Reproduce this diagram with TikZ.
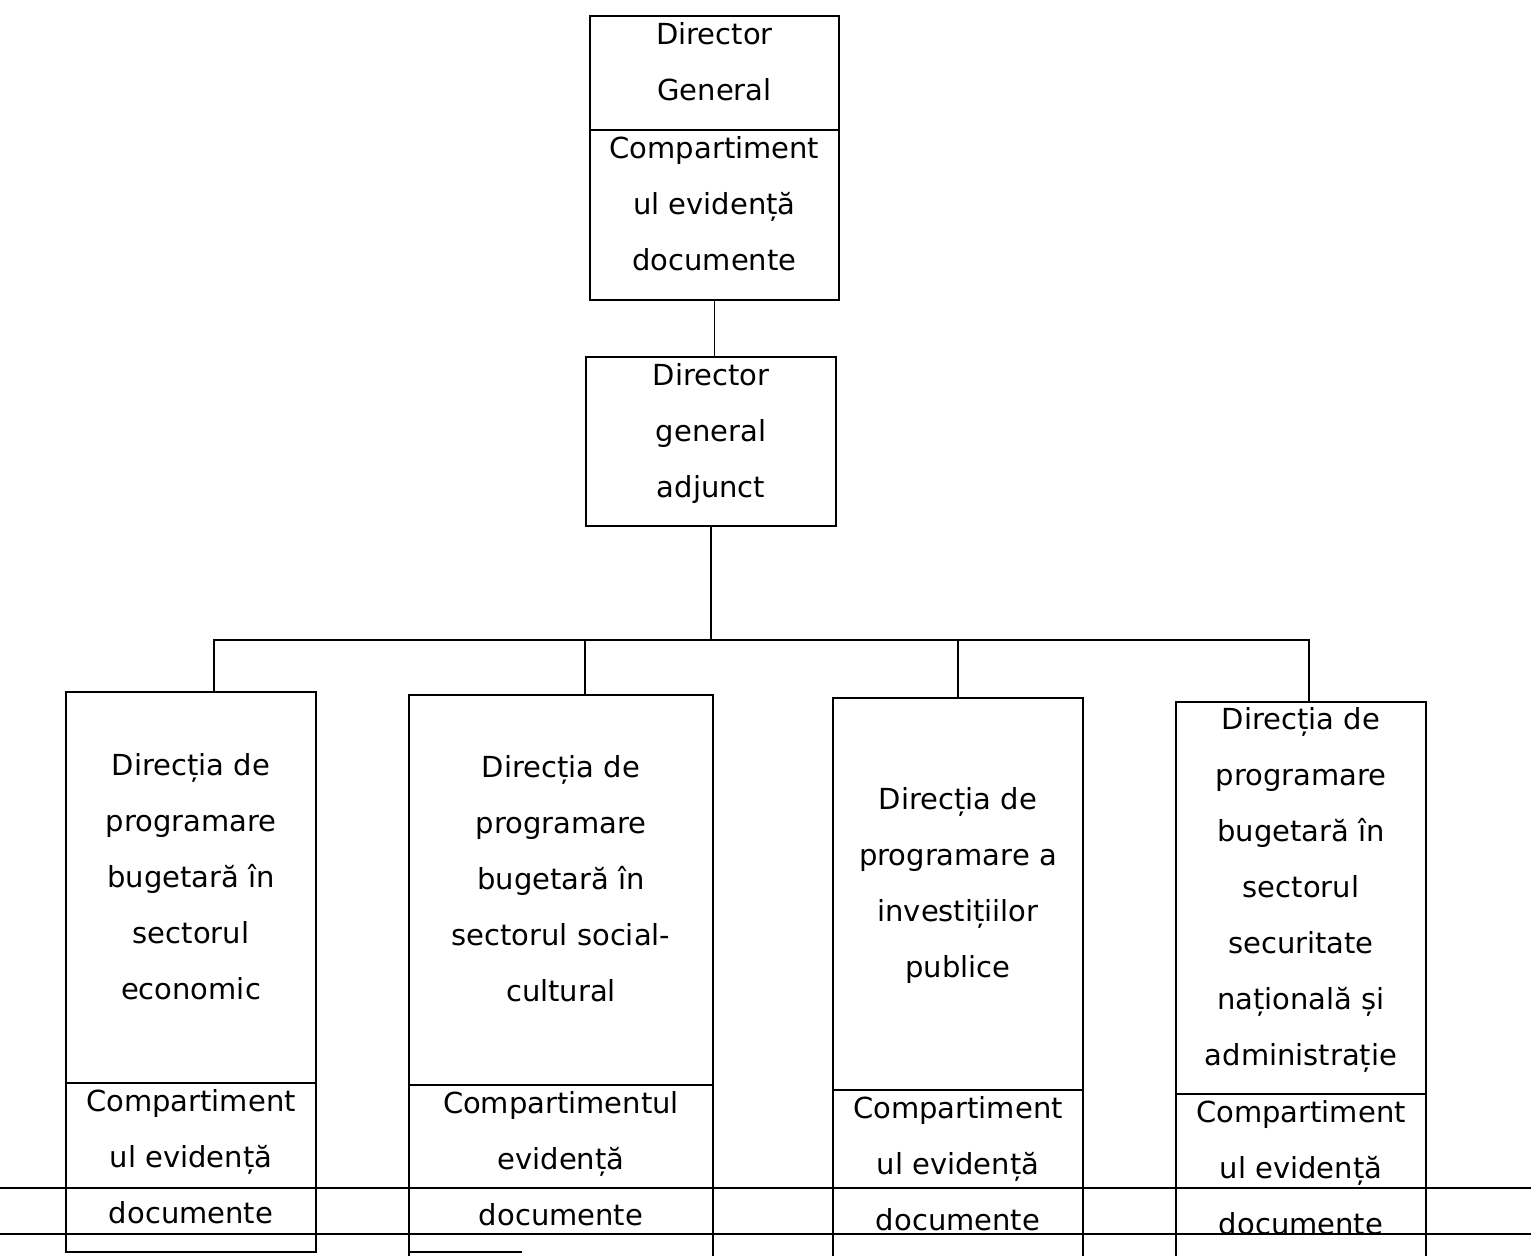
\documentclass[tikz,border=0pt]{standalone}
\usepackage{fontspec}
\setmainfont{DejaVu Sans}
\usetikzlibrary{positioning}

\tikzstyle{org-box}=[draw, rectangle, line width=0.8pt, inner sep=0pt, outer sep=0pt, align=center, text depth=0.45cm, font={\fontsize{16.5}{31.9}\selectfont}]
\tikzstyle{org-line}=[line width=0.8pt]

\begin{document}
\begin{tikzpicture}[x=0.02cm, y=-0.02cm]
  \useasboundingbox (0,0) rectangle (1531,1255);
  \clip (0,0) rectangle (1531,1255);

  % top of the chart
  \node (box-dg) at (714.5,73) [org-box, minimum width=4.98cm, minimum height=2.28cm] {Director\\General};
  \node (box-dgcomp) [org-box, below=0pt of box-dg, minimum width=4.98cm, minimum height=3.4cm] {Compartiment\\ul evidență\\documente};
  \node (box-dga) at (711,441.5) [org-box, minimum width=5cm, minimum height=3.38cm] {Director\\general\\adjunct};

  % directions
  \node (box-d1) at (191,887.5) [org-box, minimum width=5cm, minimum height=7.82cm] {Direcția de\\programare\\bugetară în\\sectorul\\economic};
  \node (box-d2) at (561,890) [org-box, minimum width=6.08cm, minimum height=7.8cm] {Direcția de\\programare\\bugetară în\\sectorul social-\\cultural};
  \node (box-d3) at (958,894) [org-box, minimum width=5cm, minimum height=7.84cm] {Direcția de\\programare a\\investițiilor\\publice};
  \node (box-d4) at (1301,898) [org-box, minimum width=5cm, minimum height=7.84cm] {Direcția de\\programare\\bugetară în\\sectorul\\securitate\\națională și\\administrație};

  % compartments under the directions
  \node (box-c1) [org-box, below=0pt of box-d1, minimum width=5cm, minimum height=3.38cm] {Compartiment\\ul evidență\\documente};
  \node (box-c2) [org-box, draw=none, below=0pt of box-d2, minimum width=6.08cm, minimum height=3.38cm] {Compartimentul\\evidență\\documente};
  \node (box-c3) [org-box, draw=none, below=0pt of box-d3, minimum width=5cm, minimum height=3.38cm] {Compartiment\\ul evidență\\documente};
  \node (box-c4) [org-box, draw=none, below=0pt of box-d4, minimum width=5cm, minimum height=3.38cm] {Compartiment\\ul evidență\\documente};
  \foreach \n in {2,3,4}
    \draw[org-line] (box-d\n.south west) -- ++(0,220) (box-d\n.south east) -- ++(0,220);
  \draw[org-line] (409,1252) -- (522,1252);

  % table rules across the page
  \draw[org-line] (0,1188) -- (1531,1188);
  \draw[org-line] (0,1234) -- (1531,1234);

  % connectors
  \draw[org-line] (box-dgcomp.south) -- (box-dgcomp.south |- box-dga.north);
  \draw[org-line] (box-dga.south) -- ++(0,114) coordinate (bus);
  \draw[org-line] ([xshift=0.46cm]box-d1.north) |- (bus) -| ([xshift=0.16cm]box-d4.north);
  \draw[org-line] ([xshift=0.48cm]box-d2.north) -- ([xshift=0.48cm]box-d2.north |- bus);
  \draw[org-line] (box-d3.north) -- (box-d3.north |- bus);
\end{tikzpicture}
\end{document}
